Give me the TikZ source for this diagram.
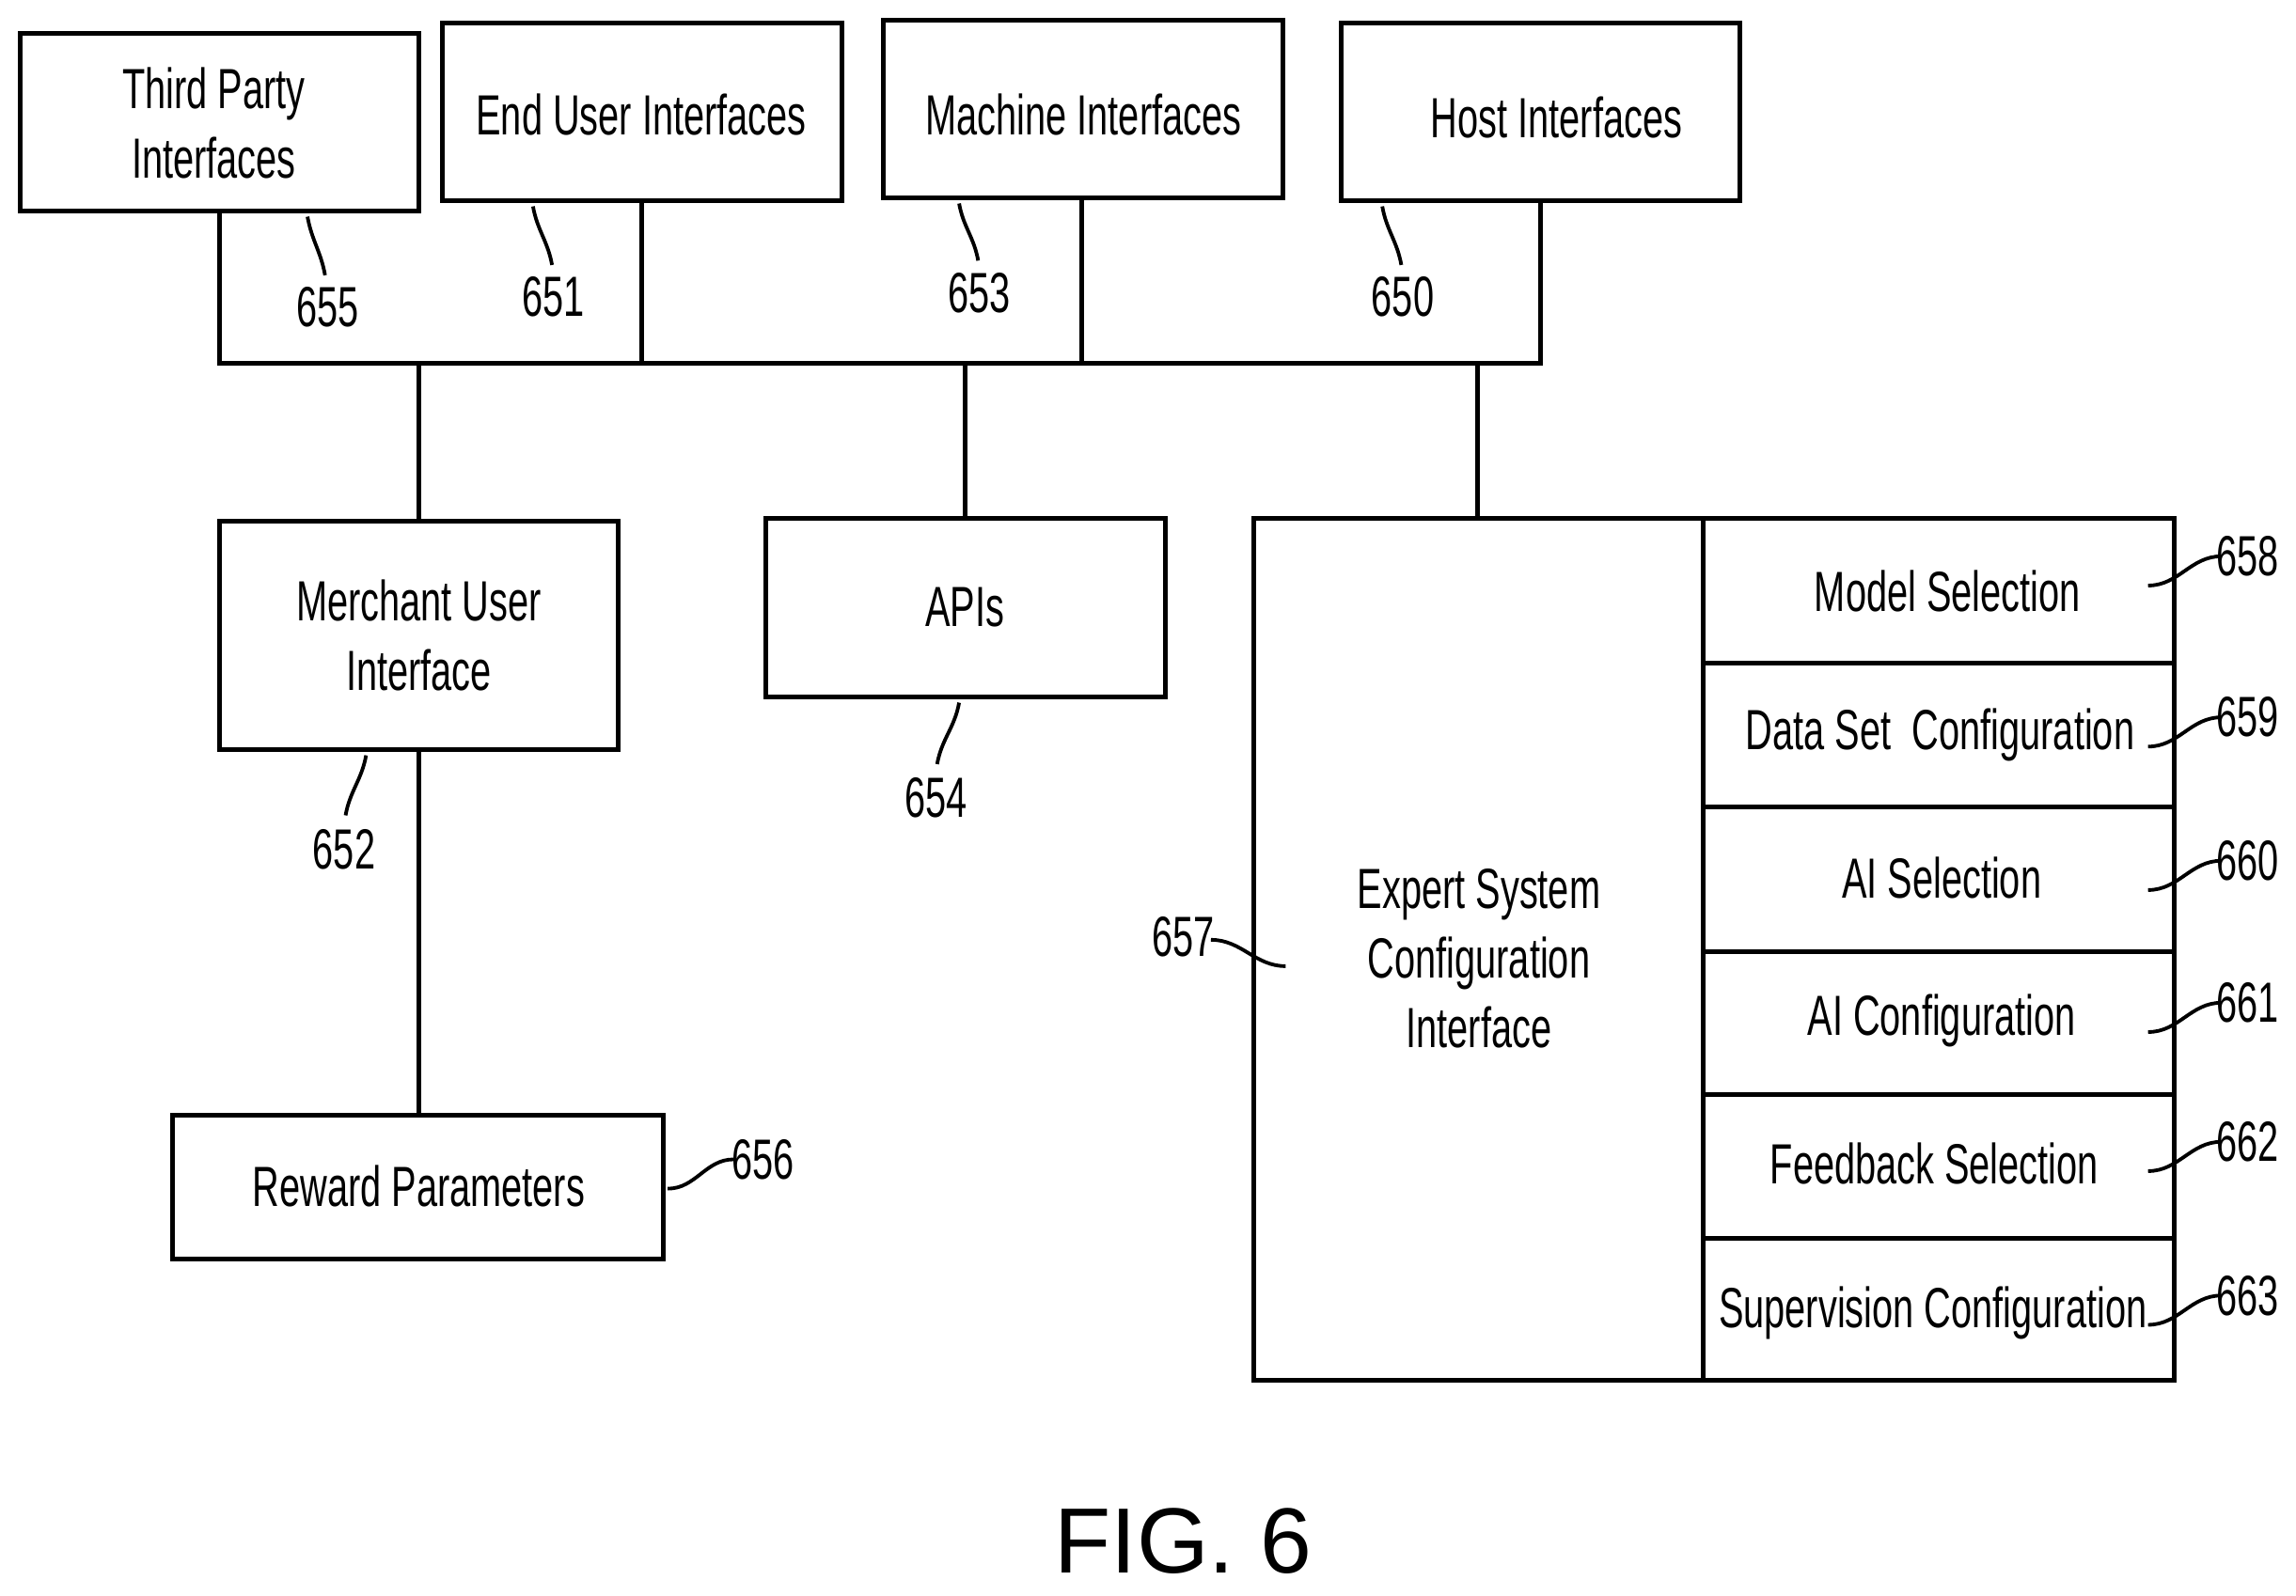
\documentclass[tikz,border=0pt]{standalone}
\usepackage{fontspec}
\setmainfont{Liberation Sans}[FakeStretch=0.66]
\newfontfamily\figfont{Liberation Sans}
\begin{document}
\begin{tikzpicture}[x=0.01cm,y=-0.01cm,
  box/.style={draw,line width=0.9pt},
  ln/.style={line width=0.9pt},
  ld/.style={line width=0.7pt},
  lab/.style={font=\fontsize{11}{13.5}\selectfont,align=center,inner sep=0pt},
  num/.style={font=\fontsize{11}{13}\selectfont,inner sep=1pt}]
\useasboundingbox (0,0) rectangle (1568,1090);
% top boxes
\draw[box] (14,23) rectangle (286,144); \node[lab] (tp) at (146,84) {Third Party\\Interfaces};
\draw[box] (302,16) rectangle (575,137); \node[lab] (eu) at (438,78) {End User Interfaces};
\draw[box] (603,14) rectangle (876,135); \node[lab] (mi) at (740,78) {Machine Interfaces};
\draw[box] (916,16) rectangle (1188,137); \node[lab] (hi) at (1063,80) {Host Interfaces};
% bus
\draw[ln] (150,144) -- (150,248) -- (1052,248) -- (1052,137);
\draw[ln] (438,137) -- (438,248);
\draw[ln] (739,135) -- (739,248);
\draw[ln] (286,248) -- (286,356);
\draw[ln] (659,248) -- (659,354);
\draw[ln] (1009,248) -- (1009,354);
% merchant
\draw[box] (150,356) rectangle (422,512); \node[lab] (mu) at (286,434) {Merchant User\\Interface};
\draw[ln] (286,512) -- (286,762);
\draw[box] (118,762) rectangle (453,860); \node[lab] (rp) at (286,810) {Reward Parameters};
\draw[box] (523,354) rectangle (796,476); \node[lab] (api) at (659,415) {APIs};
% expert
\draw[box] (856,354) rectangle (1485,943);
\draw[ln] (1163,354) -- (1163,943);
\foreach \y in {453,551,650,748,846} \draw[ln] (1163,\y) -- (1485,\y);
\node[lab] (es) at (1010,655) {Expert System\\Configuration\\Interface};
\node[lab] at (1330,404) {Model Selection};
\node[lab] at (1325,502) {Data Set\ \ Configuration};
\node[lab] at (1326,600) {AI Selection};
\node[lab] at (1326,697) {AI Configuration};
\node[lab] at (1321,795) {Feedback Selection};
\node[lab] at (1320,897) {Supervision Configuration};
% numbers
\node[num] (n655) at (224,210) {655}; \draw[ld] (210,148) to[out=-80,in=100] (222,188);
\node[num] (n651) at (378,203) {651}; \draw[ld] (364,141) to[out=-80,in=100] (377,181);
\node[num] (n653) at (669,200) {653}; \draw[ld] (655,139) to[out=-80,in=100] (668,178);
\node[num] (n650) at (958,203) {650}; \draw[ld] (944,141) to[out=-80,in=100] (957,181);
\node[num] (n652) at (235,580) {652}; \draw[ld] (250,516) to[out=-100,in=80] (236,557);
\node[num] (n654) at (639,545) {654}; \draw[ld] (655,480) to[out=-100,in=80] (640,522);
\node[num] (n656) at (521,792) {656}; \draw[ld] (456,812) to[out=0,in=180] (501,792);
\node[num] (n657) at (808,640) {657}; \draw[ld] (827,642) to[out=0,in=180] (878,660);
\foreach \n/\y in {658/380,659/490,660/588,661/685,662/780,663/885}{
  \node[num] at (1535,\y) {\n};
  \draw[ld] (1467,\y+20) to[out=0,in=180] (1517,\y);}
\node[font=\figfont\fontsize{18}{22}\selectfont] (fig) at (808,1053) {FIG. 6};
\end{tikzpicture}
\end{document}
